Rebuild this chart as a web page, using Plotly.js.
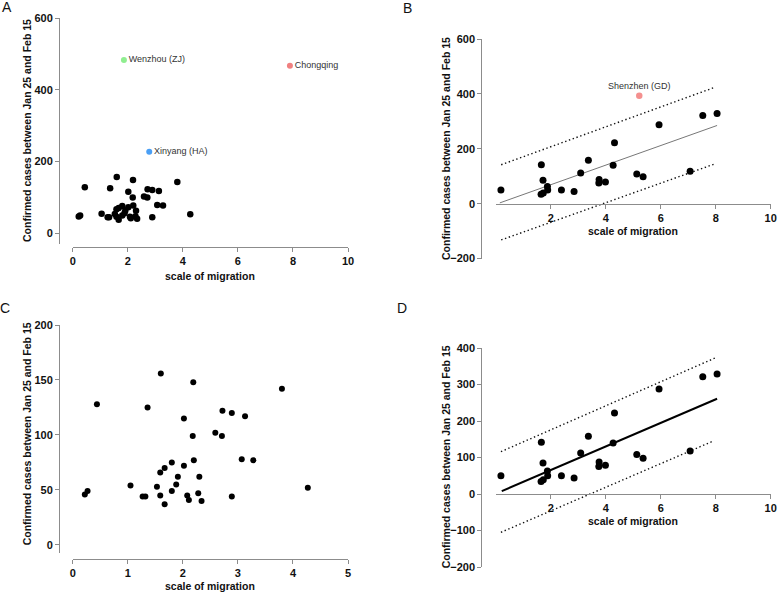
<!DOCTYPE html>
<html>
<head>
<meta charset="utf-8">
<script src="https://cdn.plot.ly/plotly-3.0.1.min.js"></script>
<style>html,body{margin:0;padding:0;background:#fff}#chart{width:778px;height:593px}</style>
</head>
<body>
<div id="chart"></div>
<script>
// Panel A & C: cities (black points)
const migAll = [0.22,0.27,0.44,1.05,1.27,1.32,1.36,1.53,1.59,1.59,1.60,1.67,1.67,1.80,1.80,1.88,1.91,2.02,2.02,2.08,2.11,2.18,2.19,2.20,2.28,2.30,2.34,2.59,2.71,2.72,2.89,2.89,3.07,3.13,3.28,3.80,4.27];
const casesAll = [46,49,128,54,44,44,125,53,45,66,156,37,70,75,49,55,62,115,72,45,41,99,148,77,47,62,40,102,99,122,120,44,78,117,77,142,52];
// Panel A highlighted outliers
const outNames = ["Wenzhou (ZJ)","Chongqing","Xinyang (HA)"];
const outMig = [1.86,7.89,2.78];
const outCases = [483,467,227];
const outColors = ["#90ee90","#f08080","#4a9ff5"];
// Panel B & D: cities
const migB = [0.19,1.66,1.65,1.72,1.73,1.88,1.89,2.39,2.85,3.09,3.37,3.75,3.76,3.99,4.27,4.32,5.13,5.36,5.94,7.07,7.53,8.05];
const casesB = [50,142,34,85,39,63,50,50,44,112,158,75,88,79,140,222,108,98,288,118,321,329];
const szName = ["Shenzhen (GD)"];
const szMig = [5.22];
const szCases = [393];
// Regression lines and prediction bands (endpoints)
const fitBx = [0.15,8.05], fitBy = [3,285];
const upBx = [0.2,7.97], upBy = [142,424];
const loBx = [0.2,7.97], loBy = [-132,145];
const fitDx = [0.22,8.05], fitDy = [8,261];
const upDx = [0.19,8.05], upDy = [116,375];
const loDx = [0.19,7.94], loDy = [-105,146];

const W=778,H=593;
const px = v=>v/W, py = v=>1-v/H;
const FONT = "Liberation Sans, Arial, sans-serif";
const axc = "#8c8c8c";
const tickf = {family:FONT,size:11,color:"#111",weight:"bold"};
const dotLine = {color:"#111",width:1.4,dash:"1.4px,2.6px"};

function xa(dom,pos,range,tv){return {domain:dom,anchor:"free",position:pos,range:range,tickvals:tv,showgrid:false,zeroline:false,showline:true,linecolor:axc,linewidth:1,ticks:"outside",ticklen:4,tickcolor:axc,tickfont:tickf,fixedrange:true};}
function ya(dom,pos,range,tv){return {domain:dom,anchor:"free",position:pos,range:range,tickvals:tv,showgrid:false,zeroline:false,showline:true,linecolor:axc,linewidth:1,ticks:"outside",ticklen:4,tickcolor:axc,tickfont:tickf,fixedrange:true};}

const traces = [
 {x:migAll,y:casesAll,xaxis:"x",yaxis:"y",mode:"markers",marker:{color:"#000",size:6.5}},
 {x:outMig,y:outCases,text:outNames,xaxis:"x",yaxis:"y",mode:"markers+text",textposition:"middle right",textfont:{family:FONT,size:9,color:"#333"},marker:{color:outColors,size:6}},
 {x:fitBx,y:fitBy,xaxis:"x2",yaxis:"y2",mode:"lines",line:{color:"#777",width:1}},
 {x:upBx,y:upBy,xaxis:"x2",yaxis:"y2",mode:"lines",line:dotLine},
 {x:loBx,y:loBy,xaxis:"x2",yaxis:"y2",mode:"lines",line:dotLine},
 {x:migB,y:casesB,xaxis:"x2",yaxis:"y2",mode:"markers",marker:{color:"#000",size:7}},
 {x:szMig,y:szCases,text:szName,xaxis:"x2",yaxis:"y2",mode:"markers+text",textposition:"top center",textfont:{family:FONT,size:9,color:"#333"},marker:{color:"#f4908f",size:6.5}},
 {x:migAll,y:casesAll,xaxis:"x3",yaxis:"y3",mode:"markers",marker:{color:"#000",size:6}},
 {x:fitDx,y:fitDy,xaxis:"x4",yaxis:"y4",mode:"lines",line:{color:"#000",width:2}},
 {x:upDx,y:upDy,xaxis:"x4",yaxis:"y4",mode:"lines",line:dotLine},
 {x:loDx,y:loDy,xaxis:"x4",yaxis:"y4",mode:"lines",line:dotLine},
 {x:migB,y:casesB,xaxis:"x4",yaxis:"y4",mode:"markers",marker:{color:"#000",size:7}}
];
traces.forEach(t=>{t.showlegend=false;t.hoverinfo="skip";t.cliponaxis=false;});

const domL=[px(72.7),px(348)], domR=[px(495.7),px(770.7)];
const yTitle="Confirmed cases between Jan 25 and Feb 15", xTitle="scale of migration";
const titf={family:FONT,size:10.5,color:"#111",weight:"bold"};
function ann(t,x,y,rot,f){return {text:t,x:px(x),y:py(y),xref:"paper",yref:"paper",xanchor:"center",yanchor:"middle",showarrow:false,textangle:rot||0,font:f};}
const letf={family:FONT,size:14,color:"#111"};

const layout = {
 width:W,height:H,margin:{l:0,r:0,t:0,b:0},paper_bgcolor:"#fff",plot_bgcolor:"rgba(0,0,0,0)",showlegend:false,
 xaxis: xa(domL,py(247),[0,10],[0,2,4,6,8,10]),
 yaxis: ya([py(244),py(18)],px(59),[-30.7,600],[0,200,400,600]),
 xaxis2: xa(domR,py(203.7),[0,10],[2,4,6,8,10]),
 yaxis2: ya([py(258.6),py(39)],px(481.3),[-200,600],[-200,0,200,400,600]),
 xaxis3: xa(domL,py(558.7),[0,5],[0,1,2,3,4,5]),
 yaxis3: ya([py(553),py(325)],px(59),[-7.3,200],[0,50,100,150,200]),
 xaxis4: xa(domR,py(494),[0,10],[2,4,6,8,10]),
 yaxis4: ya([py(567),py(348)],px(481.3),[-200,400],[-200,-100,0,100,200,300,400]),
 annotations:[
  ann(xTitle,210,276,0,titf), ann(yTitle,27,131,-90,titf),
  ann(xTitle,633,230.7,0,titf), ann(yTitle,446,149,-90,titf),
  ann(xTitle,210,586,0,titf), ann(yTitle,27.3,434,-90,titf),
  ann(xTitle,633,520.7,0,titf), ann(yTitle,446.3,457,-90,titf),
  ann("A",7,7,0,letf), ann("B",407.5,8,0,letf), ann("C",5,308,0,letf), ann("D",402,308,0,letf)
 ]
};
Plotly.newPlot("chart",traces,layout,{staticPlot:true,displayModeBar:false});
</script>
</body>
</html>
